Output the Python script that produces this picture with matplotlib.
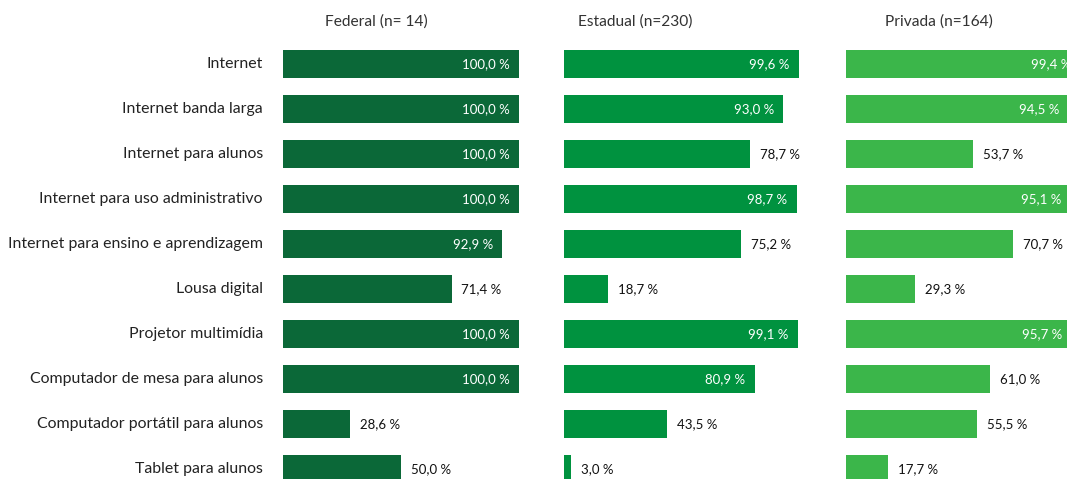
import matplotlib.pyplot as plt

plt.rcParams['font.family'] = ['Lato', 'DejaVu Sans']

categories = [
    "Internet",
    "Internet banda larga",
    "Internet para alunos",
    "Internet para uso administrativo",
    "Internet para ensino e aprendizagem",
    "Lousa digital",
    "Projetor multimídia",
    "Computador de mesa para alunos",
    "Computador portátil para alunos",
    "Tablet para alunos",
]

federal = [100.0, 100.0, 100.0, 100.0, 92.9, 71.4, 100.0, 100.0, 28.6, 50.0]
estadual = [99.6, 93.0, 78.7, 98.7, 75.2, 18.7, 99.1, 80.9, 43.5, 3.0]
privada = [99.4, 94.5, 53.7, 95.1, 70.7, 29.3, 95.7, 61.0, 55.5, 17.7]

titles = ["Federal (n= 14)", "Estadual (n=230)", "Privada (n=164)"]
colors = ["#0b6838", "#00923f", "#3bb64a"]

W, H = 1067, 479
fig = plt.figure(figsize=(W / 100, H / 100), dpi=100)

# panel placement in pixels: left edge, title centre
lefts = [283, 564, 846]
title_x = [376, 635, 939]
panel_w = 236
top_px, bot_px = 41.5, 491.5

series = [federal, estadual, privada]
ypos = list(range(len(categories)))

for i, (vals, left) in enumerate(zip(series, lefts)):
    ax = fig.add_axes([left / W, 1 - bot_px / H, panel_w / W, (bot_px - top_px) / H])
    ax.barh(ypos, vals, height=0.62, color=colors[i])
    ax.set_xlim(0, 100)
    ax.set_ylim(len(categories) - 0.5, -0.5)
    ax.axis('off')
    for y, v in zip(ypos, vals):
        lab = f"{v:.1f}".replace('.', ',') + " %"
        if v >= 80:
            ax.text(v - 4.0, y, lab, ha='right', va='center', color='white',
                    fontsize=9.5, clip_on=False)
        else:
            ax.text(v + 4.2, y, lab, ha='left', va='center', color='#111111',
                    fontsize=9.5, clip_on=False)
    if i == 0:
        for y, c in zip(ypos, categories):
            ax.text(-8.5, y, c, ha='right', va='center', color='#222222',
                    fontsize=11.4, clip_on=False)
    fig.text(title_x[i] / W, 1 - 22 / H, titles[i], ha='center', va='center',
             fontsize=11.2, color='#333333')

fig.savefig("out.png", dpi=100)
